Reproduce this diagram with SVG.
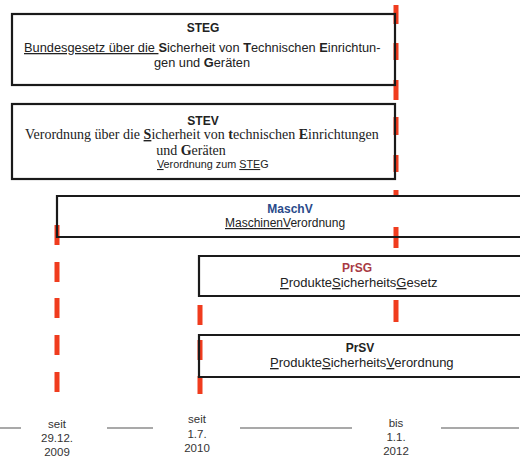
<svg xmlns="http://www.w3.org/2000/svg" width="524" height="459" viewBox="0 0 524 459">
<style>
.box{fill:none;stroke:#1a1a1a;stroke-width:2.2}
.red{stroke:#f03c1e;stroke-width:5;fill:none}
.tl{stroke:#555;stroke-width:1.2}
.a{font-family:"Liberation Sans",Arial,sans-serif;font-size:12px;fill:#222}
.t{font-family:"Liberation Serif","Times New Roman",serif;font-size:14px;fill:#222}
.b{font-weight:bold}
.u{text-decoration:underline}
.blue{fill:#2a4a8a}
.dred{fill:#a83a44}
.lab{font-family:"Liberation Sans",Arial,sans-serif;font-size:11.5px;fill:#333;text-anchor:middle}
</style>
<rect width="524" height="459" fill="#fff"/>
<g id="connectors">
<path class="red" d="M396,5V24M396,43V60M396,80V100M396,117V135M396,155V172M396,190V197M396,227V248M396,300V322"/>
<path class="red" d="M57,225V245M57,262V282M57,298V318M57,335V355M57,372V392"/>
<path class="red" d="M200,305V325M200,340V360M200,376V394"/>
</g>
<g id="steg">
<rect class="box" x="12" y="14" width="383" height="71"/>
<text class="a b" x="203" y="32" text-anchor="middle">STEG</text>
<text class="a" x="24" y="52" style="font-size:12.8px"><tspan class="u">Bundesgesetz über die </tspan><tspan class="b">S</tspan>icherheit von <tspan class="b">T</tspan>echnischen <tspan class="b">E</tspan>inrichtun-</text>
<text class="a" x="202" y="67" text-anchor="middle" style="font-size:12.8px">gen und <tspan class="b">G</tspan>eräten</text>
</g>
<g id="stev">
<rect class="box" x="12" y="104" width="383" height="75"/>
<text class="a b" x="203" y="125" text-anchor="middle">STEV</text>
<text class="t" x="25" y="139">Verordnung über die <tspan class="b u">S</tspan>icherheit von <tspan class="b">t</tspan>echnischen <tspan class="b">E</tspan>inrichtungen</text>
<text class="t" x="191" y="155" text-anchor="middle">und <tspan class="b">G</tspan>eräten</text>
<text class="a" x="157" y="168" style="font-size:10.8px"><tspan class="u">V</tspan>erordnung zum <tspan class="u">STE</tspan>G</text>
</g>
<g id="maschv">
<path class="box" d="M520,196H57V237H520"/>
<text class="a b blue" x="290" y="213" text-anchor="middle">MaschV</text>
<text class="a" x="225" y="227"><tspan class="u">Maschinen</tspan><tspan class="u">V</tspan>erordnung</text>
</g>
<g id="prsg">
<path class="box" d="M520,256H199V296H520"/>
<text class="a b dred" x="357" y="272" text-anchor="middle">PrSG</text>
<text class="a" x="280" y="287" style="font-size:13px"><tspan class="u">P</tspan>rodukte<tspan class="u">S</tspan>icherheits<tspan class="u">G</tspan>esetz</text>
</g>
<g id="prsv">
<path class="box" d="M520,335H199V377H520"/>
<text class="a b" x="360" y="352" text-anchor="middle">PrSV</text>
<text class="a" x="270" y="367" style="font-size:13px"><tspan class="u">P</tspan>rodukte<tspan class="u">S</tspan>icherheits<tspan class="u">V</tspan>erordnung</text>
</g>
<g id="timeline">
<path class="tl" d="M0,428H21M107,428H153M240,428H352M441,428H519"/>
<text class="lab" x="57" y="428">seit</text>
<text class="lab" x="57" y="442">29.12.</text>
<text class="lab" x="57" y="456">2009</text>
<text class="lab" x="197" y="423">seit</text>
<text class="lab" x="197" y="438">1.7.</text>
<text class="lab" x="197" y="452">2010</text>
<text class="lab" x="396" y="427">bis</text>
<text class="lab" x="396" y="441">1.1.</text>
<text class="lab" x="396" y="455">2012</text>
</g>
</svg>
